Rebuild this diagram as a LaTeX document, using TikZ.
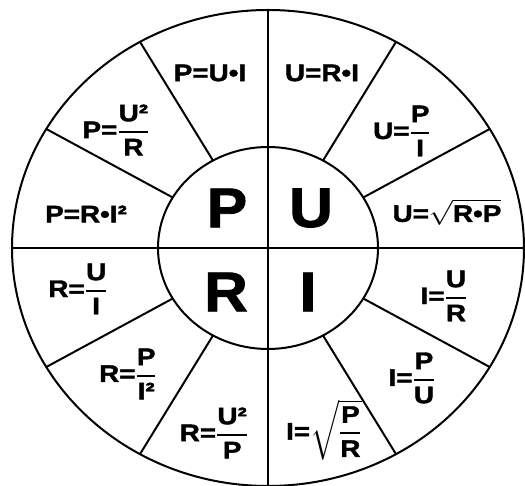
\documentclass[tikz,border=0pt]{standalone}
\usepackage{fontspec}
\usepackage{amsmath}
\setmainfont{Liberation Sans}[BoldFeatures={FakeBold=1.5}]
\newcommand{\fx}[1]{\scalebox{1.16}[1]{#1}}
\newcommand{\bx}[1]{\scalebox{1.08}[1]{#1}}
\newcommand{\fq}[2]{\genfrac{}{}{2pt}{0}{\text{#1}}{\text{#2}}}
\begin{document}
\begin{tikzpicture}[x=1pt,y=-1pt,line width=2pt,
  f/.style={font=\fontsize{24}{28}\selectfont\bfseries,inner sep=0pt},
  big/.style={font=\fontsize{56}{60}\selectfont\bfseries,inner sep=0pt}]
\useasboundingbox (0,0) rectangle (525,486);
\coordinate (c) at (268,248);
\coordinate (top) at (268,10);
\coordinate (bot) at (268,486);
\coordinate (lft) at (12,248);
\coordinate (rgt) at (524,248);
\draw (c) ellipse [x radius=256,y radius=238];
\draw (c) ellipse [x radius=110,y radius=101];
\draw (top) -- (bot);
\draw (lft) -- (rgt);
\foreach \a in {30,60,120,150,210,240,300,330}
  \draw ([shift={(\a:110 and 101)}]c) -- ([shift={(\a:256 and 238)}]c);
\node[big] (P) at (227,208) {\bx{P}};
\node[big] (U) at (311,208) {\bx{U}};
\node[big] (R) at (226,292) {\bx{R}};
\node[big] (I) at (308,292) {\bx{I}};
\node[f] (pui) at (210,73) {\fx{P=U•I}};
\node[f] (uri) at (322,73) {\fx{U=R•I}};
\node[f] (pur) at (116,130) {\fx{P=$\fq{U²}{R}$}};
\node[f] (upi) at (402,131) {\fx{U=$\fq{P}{I}$}};
\node[f] (pri) at (86,214) {\fx{P=R•I²}};
\node[f] (urp) at (447,212) {\fx{U=$\sqrt{\text{R•P}}$}};
\node[f] (rui) at (78,289) {\fx{R=$\fq{U}{I}$}};
\node[f] (iur) at (444,296) {\fx{I=$\fq{U}{R}$}};
\node[f] (rpi) at (128,374) {\fx{R=$\fq{P}{I²}$}};
\node[f] (ipu) at (412,378) {\fx{I=$\fq{P}{U}$}};
\node[f] (rup) at (214,433) {\fx{R=$\fq{U²}{P}$}};
\node[f] (ipr) at (324,430) {\fx{I=$\sqrt{\fq{P}{R}}$}};
\end{tikzpicture}
\end{document}
